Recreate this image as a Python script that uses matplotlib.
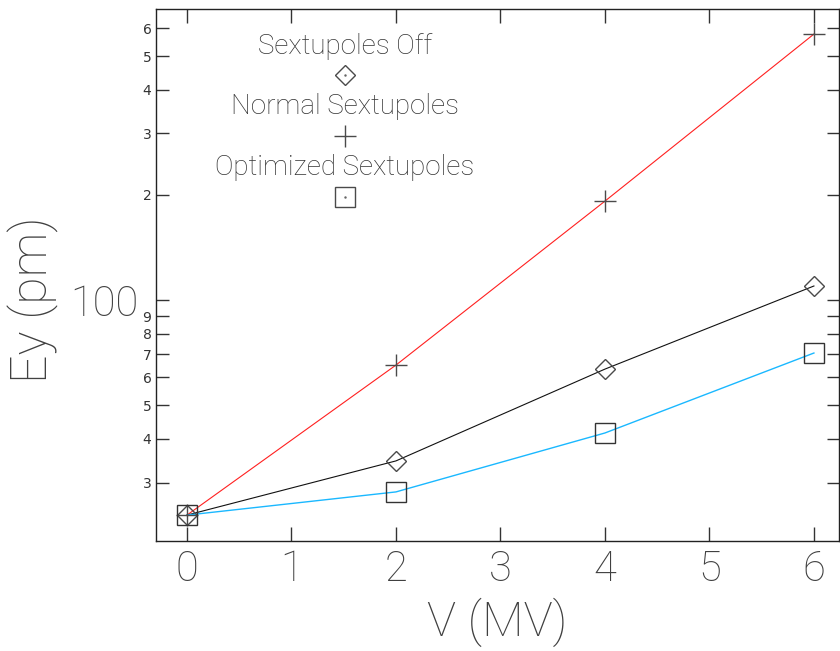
import matplotlib
matplotlib.use("Agg")
import matplotlib.pyplot as plt
from matplotlib.ticker import FixedLocator, FuncFormatter

# Data
voltage = [0, 2, 4, 6]
ey_off = [24.2, 34.6, 63.4, 109.7]
ey_normal = [24.2, 65.1, 192.0, 578.0]
ey_optimized = [24.2, 28.2, 41.6, 70.5]
series_names = ["Sextupoles Off", "Normal Sextupoles", "Optimized Sextupoles"]
x_ticks = [0, 1, 2, 3, 4, 5, 6]
y_major = [100]
y_minor = [30, 40, 50, 60, 70, 80, 90, 200, 300, 400, 500, 600]

TXT = "#404040"
EDGE = "#4a4a4a"
FAM = ['Roboto', 'DejaVu Sans']
W = 'light'

plt.rcParams['font.family'] = FAM

fig = plt.figure(figsize=(8.4, 6.51), dpi=100)
ax = fig.add_axes([155.6/840, 1-541/651, (839-155.6)/840, (541-9)/651])

ax.plot(voltage, ey_normal, color="#ff2020", lw=0.8, zorder=2)
ax.plot(voltage, ey_off, color="#111111", lw=0.8, zorder=2)
ax.plot(voltage, ey_optimized, color="#1ab8ff", lw=1.0, zorder=2)

ax.plot(voltage, ey_off, ls="none", marker="D", ms=10.5, mfc="none", mec=EDGE, mew=1.0, zorder=3)
ax.plot(voltage, ey_normal, ls="none", marker="+", ms=16, mec=EDGE, mew=1.0, zorder=3)
ax.plot(voltage, ey_optimized, ls="none", marker="s", ms=14, mfc="none", mec="#333333", mew=1.0, zorder=3)

ax.set_yscale("log")
ax.set_xlim(-0.30, 6.24)
ax.set_ylim(20.4, 682)

ax.xaxis.set_major_locator(FixedLocator(x_ticks))
ax.yaxis.set_major_locator(FixedLocator(y_major))
ax.yaxis.set_minor_locator(FixedLocator(y_minor))
ax.xaxis.set_major_formatter(FuncFormatter(lambda v, p: "%d" % round(v)))
ax.yaxis.set_major_formatter(FuncFormatter(lambda v, p: "%d" % v))
ax.yaxis.set_minor_formatter(FuncFormatter(lambda v, p: str(int(round(v / 10 ** (len(str(int(round(v)))) - 1))))))

ax.tick_params(axis="x", which="both", direction="in", top=True, bottom=True, length=10, width=1.0,
               color="#333333", labelsize=30, labelcolor=TXT, pad=6)
ax.tick_params(axis="y", which="major", direction="in", left=True, right=True, length=9, width=1.0,
               color="#333333", labelsize=30, labelcolor=TXT, pad=12)
ax.tick_params(axis="y", which="minor", direction="in", left=True, right=True, length=9, width=1.0,
               color="#333333", labelsize=10, labelcolor="#333333", pad=3)
for lab in ax.get_xticklabels() + ax.get_yticklabels():
    lab.set_fontweight(W)
for lab in ax.get_yticklabels(minor=True):
    lab.set_fontfamily(['DejaVu Sans'])

for s in ax.spines.values():
    s.set_color("#222222")
    s.set_linewidth(1.0)

fig.text(33/840, 1-300/651, "Ey (pm)", rotation=90, fontsize=36, color=TXT, fontweight=W,
         ha="center", va="center")
fig.text(497/840, 1-622/651, "V (MV)", fontsize=35, color=TXT, fontweight=W, ha="center", va="center")

# Legend
lx = (345-155.6)/(839-155.6)
text_y = [0.929, 0.816, 0.703]
mark_y = [0.876, 0.761, 0.647]
markers = [("D", 10.5), ("+", 16), ("s", 14)]
for name, ty, my, (m, ms) in zip(series_names, text_y, mark_y, markers):
    ax.text(lx, ty, name, transform=ax.transAxes, fontsize=20, color="#333333", fontweight=W,
            ha="center", va="center")
    ax.plot([lx], [my], transform=ax.transAxes, marker=m, ms=ms, mfc="none", mec=EDGE, mew=1.0, ls="none")
    if m != "+":
        ax.plot([lx], [my], transform=ax.transAxes, marker=".", ms=1.5, color="#666666", ls="none")

fig.savefig("out.png", dpi=100)
